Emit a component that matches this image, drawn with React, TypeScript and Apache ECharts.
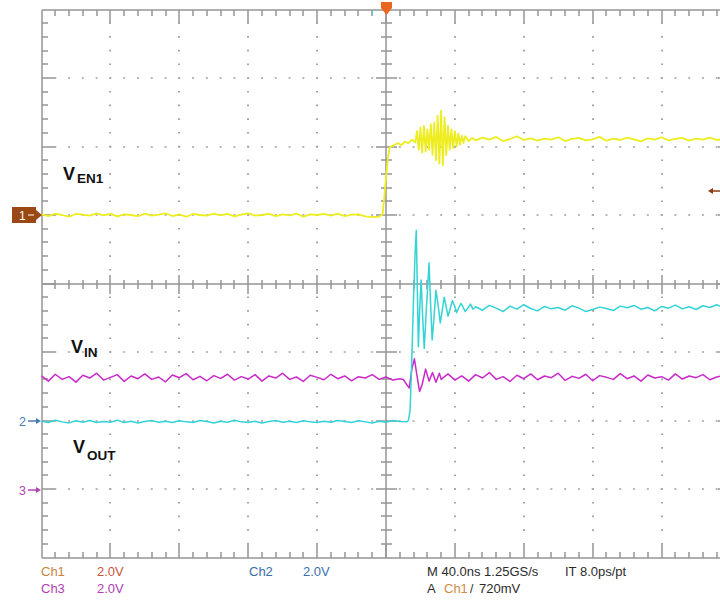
import React, { useEffect, useRef } from "react";
import * as echarts from "echarts";

// ---- scope settings ----
const TIME_MIN = -200; // ns
const TIME_MAX = 200; // ns
const NS_PER_DIV = 40;
const DIV_MIN = -4;
const DIV_MAX = 4;
const VOLTS_PER_DIV = 2;
const ch1Offset = 1; // divisions (ground marker position)
const ch2Offset = -2;
const ch3Offset = -3;

// ---- Ch1 (VEN1, yellow) ----
const ch1PreStart = -200;
const ch1PreStep = 4;
const ch1Pre = [
  0.02, -0.03, 0.04, 0.0, -0.05, 0.03, 0.01, -0.02, 0.05, -0.01,
  0.03, -0.04, 0.02, 0.0, -0.03, 0.04, -0.02, 0.01, 0.05, -0.03,
  0.02, -0.05, 0.03, 0.0, -0.02, 0.04, -0.01, 0.03, -0.04, 0.01,
  0.05, -0.02, 0.0, 0.03, -0.03, 0.02, -0.01, 0.04, -0.05, 0.02,
  0.0, 0.03, -0.02, 0.04, -0.03, 0.01, 0.02, -0.04, -0.06, -0.05,
];
const ch1EdgeT = [
  -2, -1, 0, 1, 2, 3, 5, 7, 9, 11, 13, 15, 17, 18, 19, 20, 21, 22, 23, 24, 25,
  26, 27, 28, 29, 30, 31, 32, 33, 34, 35, 36, 37, 38, 39, 40, 41, 42, 43, 44,
  45, 46, 48, 50,
];
const ch1EdgeV = [
  0.02, 0.5, 1.1, 1.6, 1.95, 2.0, 2.05, 2.1, 2.04, 2.14, 2.1, 2.2, 2.12, 2.45,
  1.9, 2.55, 1.82, 2.6, 1.85, 2.5, 1.9, 2.65, 1.75, 2.7, 1.6, 2.9, 1.5, 3.05,
  1.45, 2.85, 1.75, 2.6, 1.9, 2.5, 1.95, 2.45, 2.0, 2.38, 2.05, 2.32, 2.1, 2.3,
  2.15, 2.25,
];
const ch1PostStart = 52;
const ch1PostStep = 4;
const ch1Post = [
  2.18, 2.26, 2.2, 2.28, 2.15, 2.22, 2.3, 2.19, 2.24, 2.17,
  2.23, 2.2, 2.27, 2.16, 2.22, 2.25, 2.18, 2.21, 2.28, 2.17,
  2.23, 2.19, 2.26, 2.21, 2.15, 2.24, 2.2, 2.27, 2.18, 2.22,
  2.25, 2.17, 2.23, 2.2, 2.26, 2.19, 2.22, 2.24,
];

// ---- Ch2 (VOUT, cyan) ----
const ch2PreStart = -200;
const ch2PreStep = 4;
const ch2Pre = [
  -0.02, -0.06, 0.01, -0.04, -0.07, -0.01, -0.05, 0.0, -0.06, -0.03,
  -0.05, 0.01, -0.06, -0.02, -0.07, -0.03, 0.0, -0.05, -0.02, -0.06,
  -0.01, -0.04, -0.06, 0.0, -0.03, -0.07, -0.02, -0.05, 0.01, -0.04,
  -0.06, -0.02, -0.07, -0.03, 0.0, -0.05, -0.02, -0.06, -0.01, -0.04,
  -0.06, -0.02, -0.05, 0.0, -0.03, -0.06, -0.01, -0.04, -0.07, -0.02,
  -0.05, 0.0, -0.03, -0.04,
];
const ch2EdgeT = [
  13, 14, 15, 16, 17, 17.6, 18.2, 18.8, 19.6, 20.4, 21.3, 22.2, 23.6, 25, 25.9,
  26.8, 28, 29, 30.2, 31.5, 32.6, 33.8, 35, 36, 37.2, 38.5, 39.8, 41, 42.3,
  43.5, 44.8, 46, 47.5, 49, 50.5,
];
const ch2EdgeV = [
  0.0, 0.3, 1.8, 3.6, 5.0, 5.55, 3.8, 2.15, 3.3, 4.1,
  3.0, 2.1, 3.4, 4.6, 3.4, 2.35, 3.1, 3.8, 3.4, 2.85,
  3.2, 3.6, 3.3, 3.05, 3.25, 3.5, 3.35, 3.15, 3.3, 3.42,
  3.3, 3.18, 3.28, 3.4, 3.25,
];
const ch2PostStart = 52;
const ch2PostStep = 4;
const ch2Post = [
  3.32, 3.22, 3.36, 3.28, 3.18, 3.34, 3.25, 3.38, 3.27, 3.2,
  3.33, 3.26, 3.3, 3.22, 3.35, 3.28, 3.18, 3.24, 3.31, 3.27,
  3.21, 3.34, 3.29, 3.36, 3.25, 3.3, 3.2, 3.33, 3.28, 3.37,
  3.26, 3.32, 3.24, 3.35, 3.3, 3.38, 3.29, 3.34,
];

// ---- Ch3 (VIN, magenta) ----
const ch3PreStart = -200;
const ch3PreStep = 4;
const ch3Pre = [
  3.3, 3.15, 3.35, 3.2, 3.28, 3.12, 3.32, 3.24, 3.38, 3.18,
  3.26, 3.34, 3.14, 3.3, 3.22, 3.36, 3.2, 3.27, 3.13, 3.33,
  3.25, 3.37, 3.19, 3.29, 3.16, 3.31, 3.23, 3.35, 3.18, 3.28,
  3.21, 3.34, 3.15, 3.3, 3.24, 3.38, 3.2, 3.27, 3.14, 3.32,
  3.26, 3.19, 3.35, 3.22, 3.3, 3.16, 3.28, 3.24, 3.34, 3.2,
  3.27, 3.18, 3.22,
];
const ch3EdgeT = [10, 12, 13.5, 15, 16.5, 18, 19.5, 21, 23, 25, 27, 29, 31];
const ch3EdgeV = [3.2, 3.05, 2.95, 3.5, 3.8, 3.3, 2.85, 3.05, 3.5, 3.15, 3.4, 3.12, 3.38];
const ch3PostStart = 32;
const ch3PostStep = 4;
const ch3Post = [
  3.2, 3.36, 3.18, 3.3, 3.15, 3.34, 3.24, 3.4, 3.2, 3.28,
  3.14, 3.32, 3.22, 3.36, 3.19, 3.3, 3.25, 3.38, 3.17, 3.29,
  3.23, 3.35, 3.16, 3.31, 3.26, 3.2, 3.37, 3.22, 3.3, 3.15,
  3.33, 3.24, 3.28, 3.18, 3.36, 3.21, 3.3, 3.25, 3.34, 3.19,
  3.27, 3.32, 3.24,
];

// ---- texts ----
const traceLabels = [
  { main: "V", sub: "EN1" },
  { main: "V", sub: "IN" },
  { main: "V", sub: "OUT" },
];
const channelMarkers = ["1", "2", "3"];
const scaleRow1 = ["Ch1", "2.0V", "Ch2", "2.0V"];
const scaleRow2 = ["Ch3", "2.0V"];
const timebaseText = "M 40.0ns 1.25GS/s";
const intervalText = "IT 8.0ps/pt";
const triggerParts = ["A", "Ch1", "/", "720mV"];

// ---- colours ----
const YELLOW = "#eded1f";
const CYAN = "#33d3d6";
const MAGENTA = "#c92ac9";
const GRID = "#959595";
const DOT = "#a6a6a6";
const BROWN = "#9a4814";

function sampled(start: number, step: number, values: number[]): number[][] {
  return values.map((v, i) => [start + i * step, v]);
}
function paired(times: number[], values: number[]): number[][] {
  return times.map((t, i) => [t, values[i]]);
}
function toDivisions(points: number[][], offset: number): number[][] {
  return points.map(([t, v]) => [t, offset + v / VOLTS_PER_DIV]);
}

const ch1Data = toDivisions(
  [...sampled(ch1PreStart, ch1PreStep, ch1Pre), ...paired(ch1EdgeT, ch1EdgeV), ...sampled(ch1PostStart, ch1PostStep, ch1Post)],
  ch1Offset
);
const ch2Data = toDivisions(
  [...sampled(ch2PreStart, ch2PreStep, ch2Pre), ...paired(ch2EdgeT, ch2EdgeV), ...sampled(ch2PostStart, ch2PostStep, ch2Post)],
  ch2Offset
);
const ch3Data = toDivisions(
  [...sampled(ch3PreStart, ch3PreStep, ch3Pre), ...paired(ch3EdgeT, ch3EdgeV), ...sampled(ch3PostStart, ch3PostStep, ch3Post)],
  ch3Offset
);

const TICK_W = 1.5;

function renderGraticule(_params: any, api: any) {
  const children: any[] = [];
  const [xL0, yB0] = api.coord([TIME_MIN, DIV_MIN]);
  const [xR0, yT0] = api.coord([TIME_MAX, DIV_MAX]);
  const [xC0, yC0] = api.coord([0, 0]);
  const xL = Math.round(xL0), xR = Math.round(xR0), yT = Math.round(yT0), yB = Math.round(yB0);
  const xC = Math.round(xC0), yC = Math.round(yC0);
  const box = (x: number, y: number, w: number, h: number, fill: string) =>
    children.push({ type: "rect", silent: true, shape: { x, y, width: w, height: h }, style: { fill } });
  const vTick = (x: number, y1: number, y2: number) =>
    box(x - TICK_W / 2, Math.min(y1, y2), TICK_W, Math.abs(y2 - y1), GRID);
  const hTick = (y: number, x1: number, x2: number) =>
    box(Math.min(x1, x2), y - TICK_W / 2, Math.abs(x2 - x1), TICK_W, GRID);
  const dot = (x: number, y: number) => box(x - 1, y - 0.8, 2, 1.6, DOT);

  hTick(yT, xL, xR);
  hTick(yB, xL, xR);
  vTick(xL, yT, yB);
  vTick(xR, yT, yB);
  hTick(yC, xL, xR);
  vTick(xC, yT, yB);

  const xMinorStep = NS_PER_DIV / 5;
  const xMinorCount = (TIME_MAX - TIME_MIN) / xMinorStep;
  const yMinorStep = 0.2;
  const yMinorCount = Math.round((DIV_MAX - DIV_MIN) / yMinorStep);

  for (let i = 1; i < xMinorCount; i++) {
    const t = TIME_MIN + i * xMinorStep;
    const x = Math.round(api.coord([t, 0])[0]);
    const major = i % 5 === 0;
    vTick(x, yT, yT + (major ? 13 : 6));
    vTick(x, yB, yB - (major ? 14 : 6));
    if (t !== 0) vTick(x, yC - (major ? 9 : 4), yC + (major ? 10 : 5));
    if (major && t !== 0) {
      for (let j = 1; j < yMinorCount; j++) {
        const y = api.coord([0, DIV_MIN + j * yMinorStep])[1];
        if (Math.abs(y - yC) > 1) dot(x, y);
      }
    }
  }
  for (let j = 1; j < yMinorCount; j++) {
    const v = DIV_MIN + j * yMinorStep;
    const y = Math.round(api.coord([0, v])[1]);
    const major = j % 5 === 0;
    const isCenter = Math.abs(v) < 1e-6;
    hTick(y, xL, xL + (major ? 13 : 6));
    hTick(y, xR, xR - (major ? 13 : 6));
    if (!isCenter) hTick(y, xC - (major ? 10 : 5), xC + (major ? 11 : 6));
    if (major && !isCenter) {
      for (let i = 1; i < xMinorCount; i++) {
        const x = api.coord([TIME_MIN + i * xMinorStep, 0])[0];
        if (Math.abs(x - xC) > 1) dot(x, y);
      }
    }
  }
  return { type: "group", children };
}

const LABEL_FONT = "'Liberation Sans', Arial, sans-serif";
const STATUS_FONT = "'Liberation Sans', Arial, sans-serif";

function txt(text: string, x: number, y: number, fill: string, fontSize: number, fontWeight = "normal", font = STATUS_FONT) {
  return {
    type: "text",
    x,
    y,
    silent: true,
    z: 50,
    style: {
      text,
      fill,
      fontSize,
      fontWeight,
      fontFamily: font,
      align: "left",
      textAlign: "left",
      verticalAlign: "middle",
      textVerticalAlign: "middle",
    },
  };
}

function arrowRight(x1: number, x2: number, y: number, color: string) {
  return [
    { type: "rect", z: 50, silent: true, shape: { x: x1, y: y - 0.75, width: x2 - 3 - x1, height: 1.5 }, style: { fill: color } },
    { type: "polygon", z: 50, silent: true, shape: { points: [[x2, y], [x2 - 5, y - 3], [x2 - 5, y + 3]] }, style: { fill: color } },
  ];
}

export default function App() {
  const ref = useRef<HTMLDivElement>(null);
  useEffect(() => {
    if (!ref.current) return;
    const chart = echarts.init(ref.current, undefined, { renderer: "svg" });

    const labelPos = [
      { x: 63, y: 174, sx: 77, sy: 178 },
      { x: 71, y: 347, sx: 84, sy: 352.5 },
      { x: 73, y: 447, sx: 87, sy: 455.5 },
    ];
    const labelGraphics: any[] = [];
    traceLabels.forEach((l, i) => {
      const p = labelPos[i];
      labelGraphics.push(txt(l.main, p.x, p.y, "#111", 18, "bold", LABEL_FONT));
      labelGraphics.push(txt(l.sub, p.sx, p.sy, "#111", 13.5, "bold", LABEL_FONT));
    });

    const graphics: any[] = [
      ...labelGraphics,
      // Ch1 ground marker
      { type: "rect", z: 50, silent: true, shape: { x: 12, y: 207, width: 24, height: 16 }, style: { fill: BROWN } },
      txt(channelMarkers[0], 19, 215.5, "#ffffff", 12),
      { type: "rect", z: 51, silent: true, shape: { x: 28, y: 214.4, width: 6, height: 1.2 }, style: { fill: "#f3e3d0" } },
      { type: "polygon", z: 50, silent: true, shape: { points: [[42, 215], [36, 210], [36, 220]] }, style: { fill: BROWN } },
      // Ch2 ground marker
      txt(channelMarkers[1], 19, 421.5, "#4a7cb3", 12.5),
      ...arrowRight(28, 41, 421, "#4a7cb3"),
      // Ch3 ground marker
      txt(channelMarkers[2], 19, 490.5, "#b443b4", 12.5),
      ...arrowRight(28, 41, 490, "#b443b4"),
      // trigger level arrow (right edge)
      { type: "rect", z: 50, silent: true, shape: { x: 712, y: 190.25, width: 8, height: 1.5 }, style: { fill: "#8a3c12" } },
      { type: "polygon", z: 50, silent: true, shape: { points: [[708, 191], [713, 188], [713, 194]] }, style: { fill: "#8a3c12" } },
      // trigger position marker (top)
      { type: "polygon", z: 50, silent: true, shape: { points: [[381, 2], [392, 2], [392, 8], [386.5, 15], [381, 8]] }, style: { fill: "#e8661e" } },
      { type: "rect", z: 50, silent: true, shape: { x: 372, y: 10, width: 1, height: 5 }, style: { fill: "#4fc9d6" } },
      // status area
      txt(scaleRow1[0], 41, 571.5, "#c8843f", 13),
      txt(scaleRow1[1], 97, 571.5, "#c7563a", 13),
      txt(scaleRow1[2], 249, 571.5, "#3a6fa8", 13),
      txt(scaleRow1[3], 303, 571.5, "#3a6fa8", 13),
      txt(scaleRow2[0], 41, 588.5, "#b040b4", 13),
      txt(scaleRow2[1], 97, 588.5, "#b040b4", 13),
      txt(timebaseText, 427, 571.5, "#2b2b2b", 13),
      txt(intervalText, 565, 571.5, "#2b2b2b", 13),
      txt(triggerParts[0], 427, 588.5, "#2b2b2b", 13),
      txt(triggerParts[1], 444, 588.5, "#d08a45", 13),
      txt(triggerParts[2], 470, 588.5, "#2b2b2b", 12),
      txt(triggerParts[3], 479, 588.5, "#2b2b2b", 13),
    ];

    const lineSeries = (data: number[][], color: string, width: number, z: number) => ({
      type: "line",
      data,
      showSymbol: false,
      symbol: "none",
      smooth: false,
      silent: true,
      z,
      lineStyle: { color, width, join: "round" },
    });

    chart.setOption({
      animation: false,
      backgroundColor: "#ffffff",
      grid: { left: 41.5, top: 9.5, width: 689, height: 548, containLabel: false, outerBoundsMode: "none" },
      xAxis: { type: "value", min: TIME_MIN, max: TIME_MAX, interval: NS_PER_DIV, show: false },
      yAxis: { type: "value", min: DIV_MIN, max: DIV_MAX, interval: 1, show: false },
      graphic: { elements: graphics },
      series: [
        { type: "custom", renderItem: renderGraticule, data: [[0, 0]], silent: true, z: 1, clip: false },
        lineSeries(ch3Data, MAGENTA, 1.5, 3),
        lineSeries(ch2Data, CYAN, 1.5, 4),
        lineSeries(ch1Data, YELLOW, 1.8, 5),
      ],
    });
    return () => chart.dispose();
  }, []);

  return (
    <div
      ref={ref}
      style={{ position: "absolute", left: 0, top: 0, width: 720, height: 601, background: "#fff" }}
    />
  );
}
